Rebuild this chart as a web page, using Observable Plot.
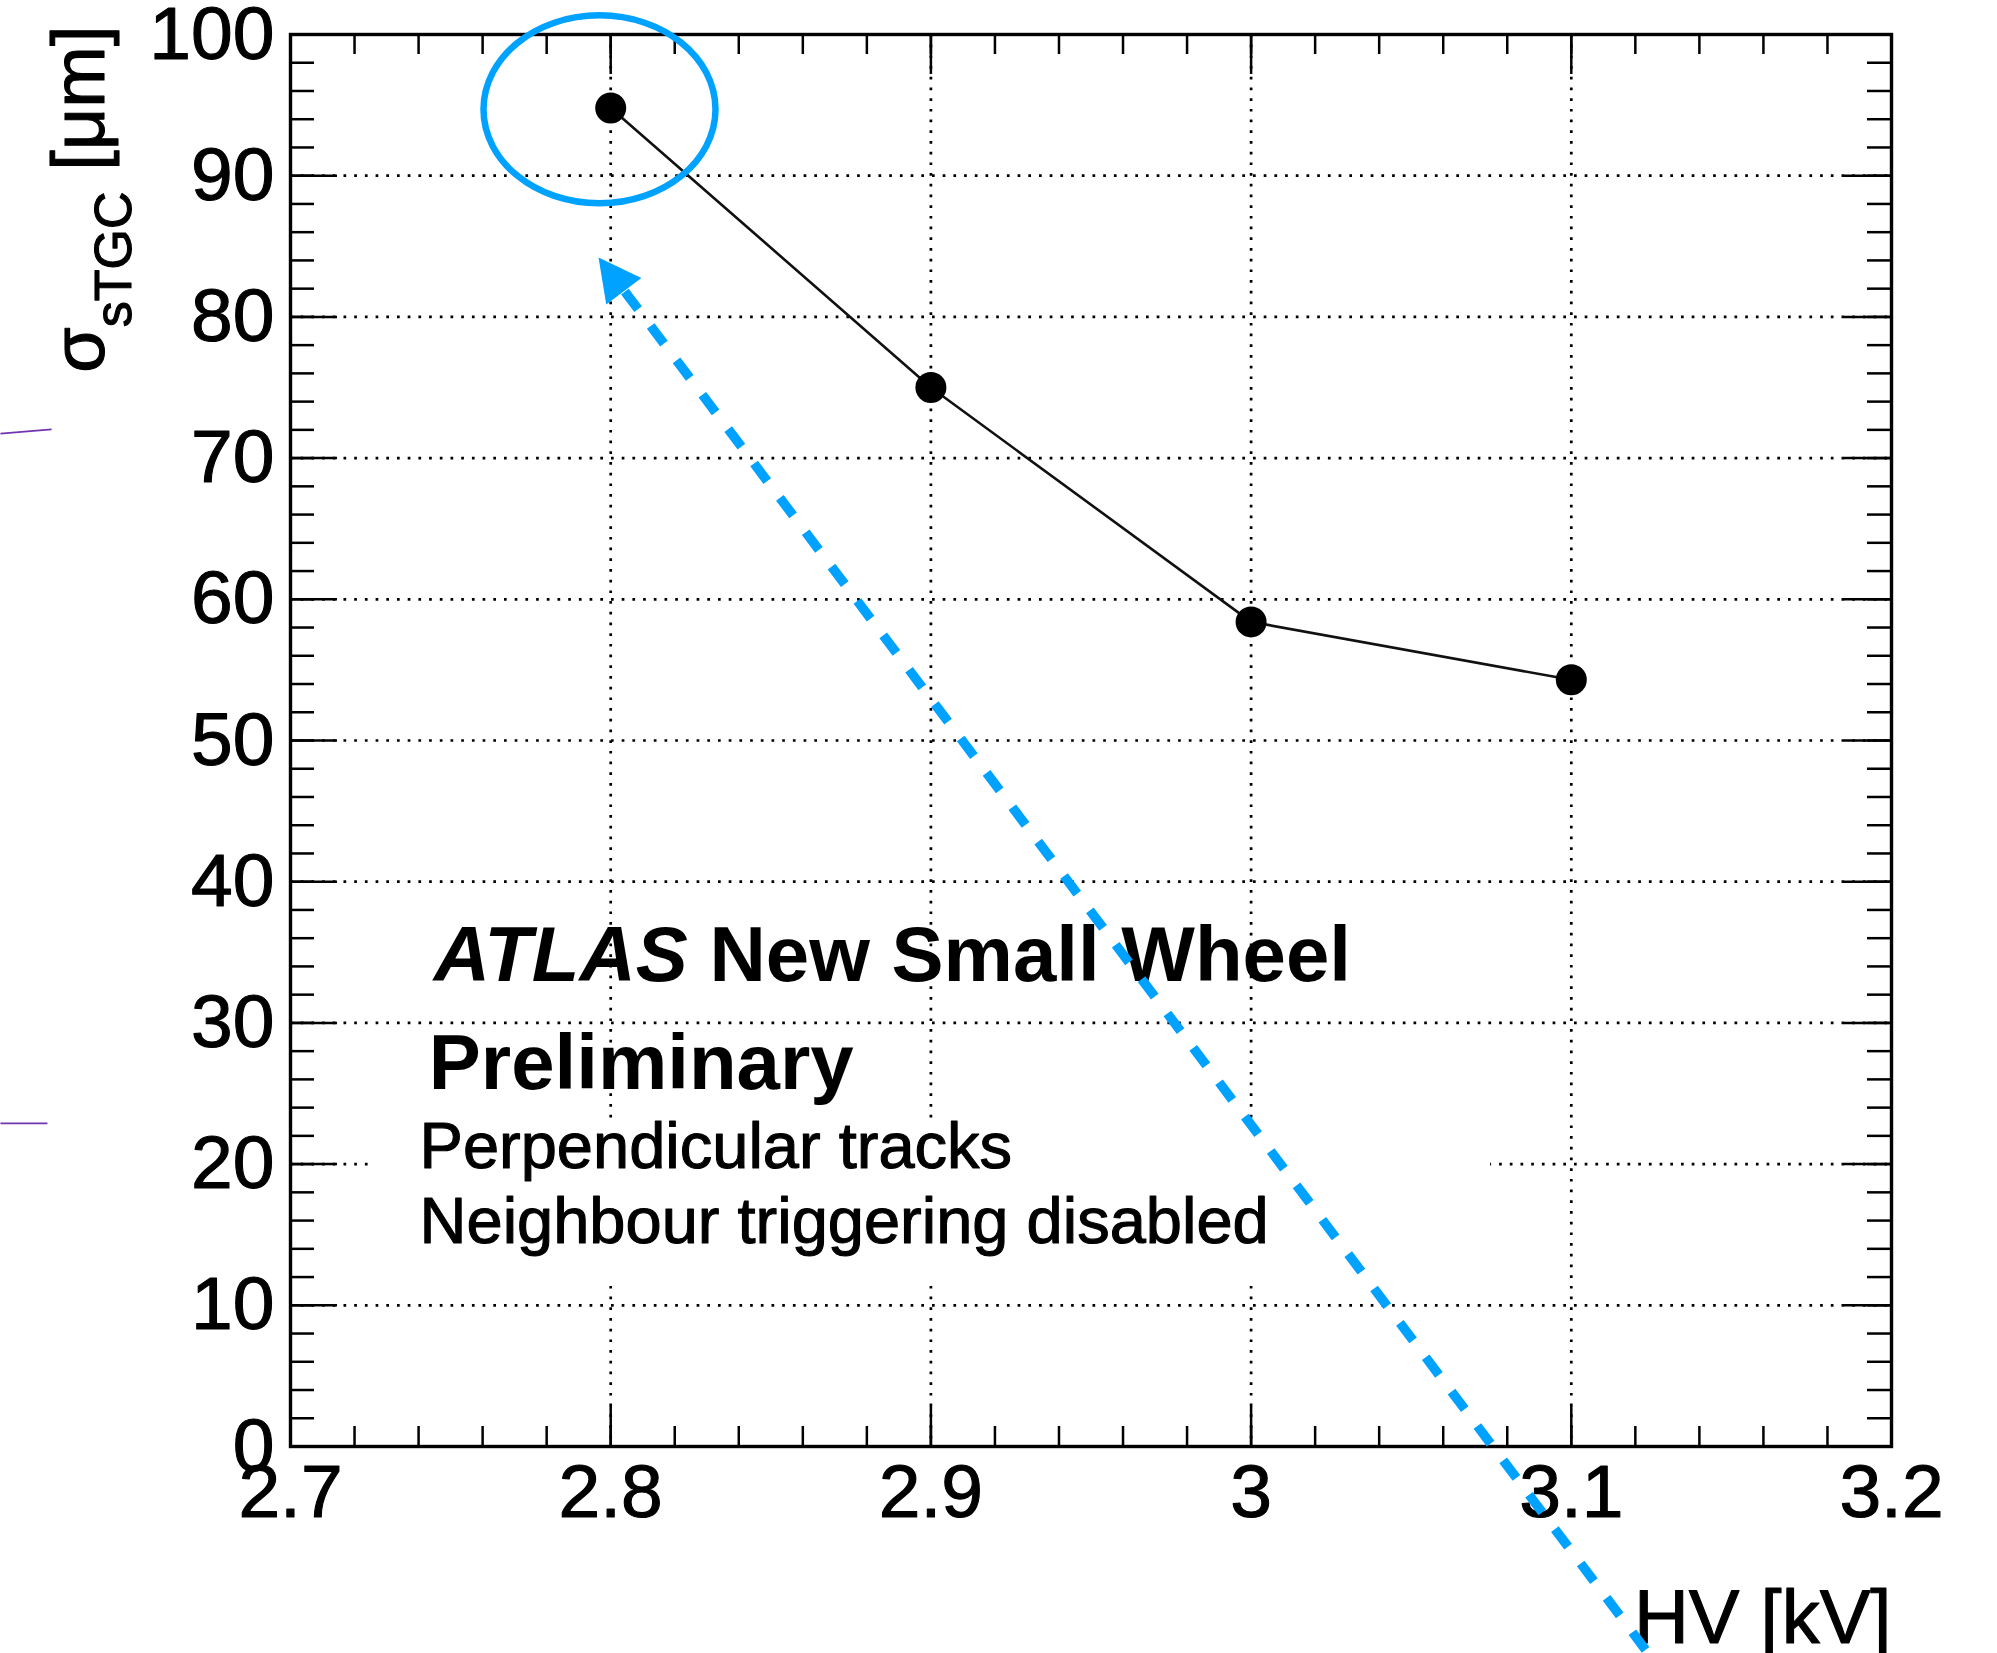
<!DOCTYPE html>
<html>
<head>
<meta charset="utf-8">
<script src="https://cdn.jsdelivr.net/npm/d3@7"></script>
<script src="https://cdn.jsdelivr.net/npm/@observablehq/plot@0.6"></script>
<style>
  html, body { margin: 0; padding: 0; background: #fff; }
  #chart svg { display: block; }
</style>
</head>
<body>
<div id="chart"></div>
<script>
// ---------------- data ----------------
const hv = [2.8, 2.9, 3.0, 3.1];                 // HV [kV]
const sigma = [94.8, 75.0, 58.4, 54.3];          // sigma_sTGC [um]

const xTicks = [2.7, 2.8, 2.9, 3.0, 3.1, 3.2];
const xTickLabels = ["2.7", "2.8", "2.9", "3", "3.1", "3.2"];
const yTicks = [0, 10, 20, 30, 40, 50, 60, 70, 80, 90, 100];
const yTickLabels = ["0", "10", "20", "30", "40", "50", "60", "70", "80", "90", "100"];
const xGrid = [2.8, 2.9, 3.0, 3.1];
const yGrid = [10, 20, 30, 40, 50, 60, 70, 80, 90];
const xMinorTicks = d3.ticks(2.7, 3.2, 25);
const yMinorTicks = d3.ticks(0, 100, 50);

const xLabel = "HV [kV]";
const yLabel = "σsTGC [μm]";
const textLines = ["ATLAS New Small Wheel", "Preliminary", "Perpendicular tracks", "Neighbour triggering disabled"];

// annotation anchors (data coordinates)
const ellipseCenter = [{x: 2.7965, y: 94.7}];
const arrowTip = [{x: 2.7962, y: 84.2}];
const arrowShaft = [{x1: 3.1232, y1: -14.4, x2: 2.8034, y2: 82.1}];
const purpleMarks = [
  {x1: 2.6094, y1: 71.74, x2: 2.6254, y2: 72.03},
  {x1: 2.6094, y1: 22.88, x2: 2.6241, y2: 22.88}
];
const textBox = [{x1: 2.7247, x2: 3.0748, y1: 11.4, y2: 23.1}];

// ---------------- layout ----------------
const W = 1997, H = 1653;
const mL = 290, mR = 106, mT = 34, mB = 207;
const innerW = W - mL - mR, innerH = H - mT - mB;
const FONT = "'Liberation Sans', Arial, Helvetica, sans-serif";
const BLUE = "#00A2FF";
const TS = {fill: "black", stroke: "black", strokeWidth: 1.1};

const points = hv.map((x, i) => ({x, y: sigma[i]}));

const ellipseSymbol = {
  draw(ctx) {
    const rx = 116, ry = 94, k = 0.5522847;
    ctx.moveTo(rx, 0);
    ctx.bezierCurveTo(rx, k * ry, k * rx, ry, 0, ry);
    ctx.bezierCurveTo(-k * rx, ry, -rx, k * ry, -rx, 0);
    ctx.bezierCurveTo(-rx, -k * ry, -k * rx, -ry, 0, -ry);
    ctx.bezierCurveTo(k * rx, -ry, rx, -k * ry, rx, 0);
    ctx.closePath();
  }
};
const headSymbol = {
  draw(ctx) {
    const a = -37 * Math.PI / 180, c = Math.cos(a), s = Math.sin(a);
    const rot = ([px, py]) => [px * c - py * s, px * s + py * c];
    const p1 = rot([22, 42]), p2 = rot([-22, 42]);
    ctx.moveTo(0, 0);
    ctx.lineTo(p1[0], p1[1]);
    ctx.lineTo(p2[0], p2[1]);
    ctx.closePath();
  }
};

const plot = Plot.plot({
  width: W,
  height: H,
  marginLeft: mL, marginRight: mR, marginTop: mT, marginBottom: mB,
  x: {type: "linear", domain: [2.7, 3.2], axis: null},
  y: {type: "linear", domain: [0, 100], axis: null},
  style: {background: "white", fontFamily: FONT, color: "black", overflow: "visible"},
  marks: [
    // dotted grid
    Plot.ruleX(xGrid, {x: d => d, stroke: "black", strokeWidth: 2.7, strokeDasharray: "2.7,8"}),
    Plot.ruleY(yGrid, {y: d => d, stroke: "black", strokeWidth: 2.7, strokeDasharray: "2.7,8"}),
    // white box behind text
    Plot.rect(textBox, {x1: "x1", x2: "x2", y1: "y1", y2: "y2", fill: "white"}),
    // ticks (inside the frame, on all four sides)
    Plot.ruleX(xMinorTicks, {x: d => d, stroke: "black", strokeWidth: 2.5, insetTop: innerH - 20}),
    Plot.ruleX(xMinorTicks, {x: d => d, stroke: "black", strokeWidth: 2.5, insetBottom: innerH - 20}),
    Plot.ruleX(xTicks, {x: d => d, stroke: "black", strokeWidth: 2.5, insetTop: innerH - 40}),
    Plot.ruleX(xTicks, {x: d => d, stroke: "black", strokeWidth: 2.5, insetBottom: innerH - 40}),
    Plot.ruleY(yMinorTicks, {y: d => d, stroke: "black", strokeWidth: 2.5, insetRight: innerW - 24}),
    Plot.ruleY(yMinorTicks, {y: d => d, stroke: "black", strokeWidth: 2.5, insetLeft: innerW - 24}),
    Plot.ruleY(yTicks, {y: d => d, stroke: "black", strokeWidth: 2.5, insetRight: innerW - 47}),
    Plot.ruleY(yTicks, {y: d => d, stroke: "black", strokeWidth: 2.5, insetLeft: innerW - 47}),
    Plot.frame({stroke: "black", strokeWidth: 3.4}),
    // tick labels
    Plot.text(xTicks, {x: d => d, text: (d, i) => xTickLabels[i], frameAnchor: "bottom", dy: 70,
      lineAnchor: "bottom", textAnchor: "middle", fontSize: 75, ...TS}),
    Plot.text(yTicks, {y: d => d, text: (d, i) => yTickLabels[i], frameAnchor: "left", dx: -16,
      lineAnchor: "middle", textAnchor: "end", fontSize: 75, ...TS}),
    // axis titles
    Plot.text([xLabel], {x: 3.2, y: -13.9, text: d => d, textAnchor: "end", lineAnchor: "bottom",
      fontSize: 76, ...TS}),
    Plot.text([yLabel], {x: 2.6416, y: 100.64, text: d => d, rotate: -90, textAnchor: "end",
      lineAnchor: "bottom", fontSize: 74, ...TS}),
    // data
    Plot.line(points, {x: "x", y: "y", stroke: "#111", strokeWidth: 2.6}),
    Plot.dot(points, {x: "x", y: "y", r: 15.5, fill: "black", stroke: "none"}),
    // texts
    Plot.text([textLines[0]], {x: 2.7447, y: 33.0, text: d => d, textAnchor: "start", lineAnchor: "bottom",
      fontSize: 78, fontWeight: "bold", fill: "black"}),
    Plot.text([textLines[1]], {x: 2.7432, y: 25.3, text: d => d, textAnchor: "start", lineAnchor: "bottom",
      fontSize: 78, fontWeight: "bold", fill: "black"}),
    Plot.text([textLines[2]], {x: 2.7403, y: 19.69, text: d => d, textAnchor: "start", lineAnchor: "bottom",
      fontSize: 65, ...TS}),
    Plot.text([textLines[3]], {x: 2.7403, y: 14.38, text: d => d, textAnchor: "start", lineAnchor: "bottom",
      fontSize: 65, ...TS}),
    // blue annotations
    Plot.dot(ellipseCenter, {x: "x", y: "y", symbol: ellipseSymbol, r: 10, fill: "none", stroke: BLUE, strokeWidth: 6.5}),
    Plot.link(arrowShaft, {x1: "x1", y1: "y1", x2: "x2", y2: "y2", stroke: BLUE, strokeWidth: 9.5,
      strokeDasharray: "22,21", strokeLinecap: "butt"}),
    Plot.dot(arrowTip, {x: "x", y: "y", symbol: headSymbol, r: 10, fill: BLUE, stroke: "none"}),
    // purple slide marks
    Plot.link(purpleMarks, {x1: "x1", y1: "y1", x2: "x2", y2: "y2", stroke: "#7235B0", strokeWidth: 1.8})
  ]
});

// rich text: italic ATLAS, subscript sTGC
plot.querySelectorAll("text").forEach(t => {
  if (t.textContent === textLines[0]) {
    t.innerHTML = '<tspan font-style="italic">ATLAS</tspan> New Small Wheel';
  } else if (t.textContent === yLabel) {
    t.innerHTML = 'σ<tspan dy="27" font-size="52">sTGC</tspan><tspan dy="-27"> [μm]</tspan>';
  }
});

document.getElementById("chart").appendChild(plot);
</script>
</body>
</html>
